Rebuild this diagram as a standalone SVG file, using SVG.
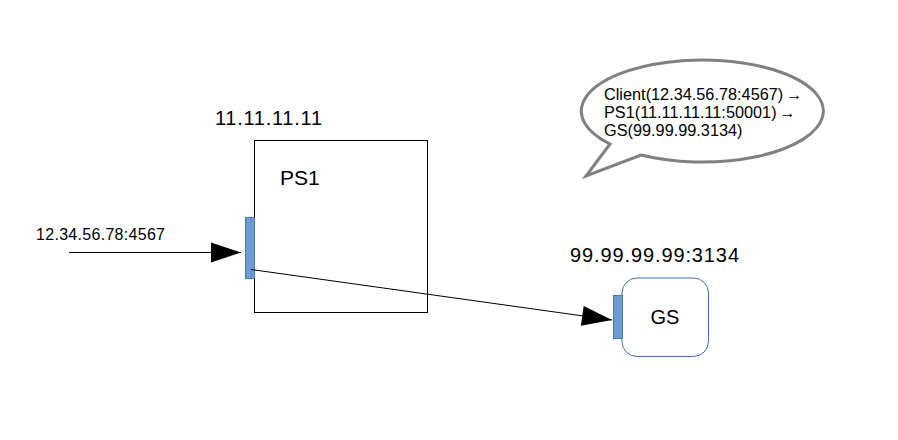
<svg xmlns="http://www.w3.org/2000/svg" width="898" height="440" viewBox="0 0 898 440">
<style>
text{font-family:"Liberation Sans",Arial,sans-serif;fill:#000}
.port{fill:#6e9bd1;stroke:#4a78b4;stroke-width:1}
.conn{stroke:#000;stroke-width:1;fill:none}
</style>
<defs>
<marker id="ah" markerUnits="userSpaceOnUse" markerWidth="30" markerHeight="20" refX="30" refY="10" orient="auto" overflow="visible">
<path d="M0,0 L30,10 L0,20 Z" fill="#000"/>
</marker>
</defs>
<rect width="898" height="440" fill="#fff"/>
<g id="bubble">
<path d="M610,144 L586,176 L641,155 A121 51 0 1 0 610,144 Z" fill="#fff" stroke="#808080" stroke-width="3" stroke-linejoin="miter"/>
<text x="604" y="100" font-size="16.3">Client(12.34.56.78:4567)<tspan dx="3" font-size="16">→</tspan></text>
<text x="604" y="118" font-size="16.3">PS1(11.11.11.11:50001)<tspan dx="3" font-size="16">→</tspan></text>
<text x="604" y="136" font-size="16.3">GS(99.99.99.3134)</text>
</g>
<g id="ps1">
<text x="215" y="125" font-size="20" textLength="107" lengthAdjust="spacing">11.11.11.11</text>
<rect x="254.5" y="140.5" width="173" height="172" fill="#fff" stroke="#000" stroke-width="1"/>
<text x="280" y="185" font-size="21">PS1</text>
<rect class="port" x="245.5" y="217.5" width="9" height="61"/>
</g>
<g id="gs">
<text x="570" y="262" font-size="20" textLength="169" lengthAdjust="spacing">99.99.99.99:3134</text>
<rect x="622" y="278" width="86.5" height="78.5" rx="15" ry="15" fill="#fff" stroke="#3e6fb3" stroke-width="1"/>
<text x="665" y="324" font-size="20" text-anchor="middle">GS</text>
<rect class="port" x="613.5" y="295.5" width="9" height="43"/>
</g>
<g id="input-label">
<text x="36" y="240" font-size="16" textLength="129" lengthAdjust="spacing">12.34.56.78:4567</text>
</g>
<g id="connectors">
<line class="conn" x1="69" y1="252.5" x2="241" y2="252.5" marker-end="url(#ah)"/>
<line class="conn" x1="251" y1="269.5" x2="612" y2="320" marker-end="url(#ah)"/>
</g>
</svg>
